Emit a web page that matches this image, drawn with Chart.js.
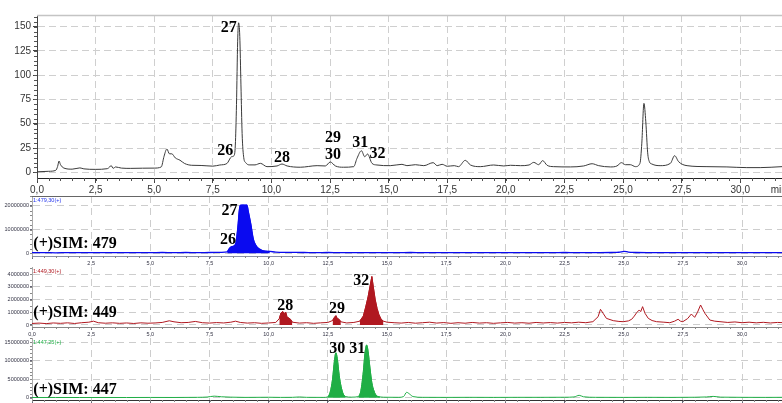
<!DOCTYPE html>
<html><head><meta charset="utf-8">
<script src="https://cdn.jsdelivr.net/npm/chart.js@4.4.0/dist/chart.umd.min.js"></script>
<style>
html,body{margin:0;padding:0;background:#fff;overflow:hidden;width:782px;height:403px;position:relative;}
canvas{position:absolute;left:0;}
</style></head><body>
<canvas id="c1" width="782" height="200" style="top:0px"></canvas>
<canvas id="c2" width="782" height="80" style="top:188px"></canvas>
<canvas id="c3" width="782" height="79" style="top:259px"></canvas>
<canvas id="c4" width="782" height="85" style="top:330px"></canvas>
<script>
// ---------- data ----------
const xTicks = [0, 2.5, 5, 7.5, 10, 12.5, 15, 17.5, 20, 22.5, 25, 27.5, 30];
const ticYTicks = [0, 25, 50, 75, 100, 125, 150];
const sim479YTicks = [0, 10000000, 20000000];
const sim449YTicks = [0, 1000000, 2000000, 3000000, 4000000];
const sim447YTicks = [0, 5000000, 10000000, 15000000];

// TIC (top trace), time in min, response
const ticT = [0, 0.5, 0.8, 0.88, 0.94, 1.0, 1.15, 1.5, 1.83, 2.0, 2.5, 3.0, 3.1, 3.16, 3.25, 3.35, 3.6, 4.0, 4.5, 5.0, 5.3, 5.42, 5.54, 5.65, 5.75, 5.9, 6.1, 6.3, 6.6, 7.0, 7.5, 7.8, 8.1, 8.3, 8.4, 8.46, 8.51, 8.56, 8.6, 8.65, 8.7, 8.75, 8.82, 8.9, 9.05, 9.3, 9.53, 9.81, 10.24, 10.45, 10.67, 11.23, 11.95, 12.3, 12.51, 12.73, 13.08, 13.51, 13.65, 13.84, 13.98, 14.1, 14.29, 14.5, 15.07, 15.57, 15.78, 16.14, 16.5, 16.9, 17.07, 17.28, 17.5, 17.8, 17.98, 18.27, 18.49, 18.91, 19.48, 19.91, 20.2, 20.63, 20.99, 21.19, 21.4, 21.57, 21.76, 22.04, 22.75, 23.32, 23.68, 23.96, 24.46, 24.74, 24.93, 25.1, 25.31, 25.53, 25.72, 25.8, 25.89, 25.97, 26.05, 26.12, 26.23, 26.58, 27.02, 27.2, 27.37, 27.73, 28.58, 29.43, 30.28, 30.85, 31.78];
const ticV = [0.5, 1, 2, 6, 11.6, 8, 4.3, 3.2, 4.5, 3.5, 3, 3.7, 5.5, 7, 4, 5.5, 4.3, 4, 4.2, 4.3, 5.5, 16.5, 24, 19, 19, 14.8, 12.4, 9, 7.2, 7, 6.3, 7.5, 9, 16, 17, 28, 70, 135, 154, 140, 90, 40, 15, 10, 7.6, 7.6, 9.2, 5.8, 6.5, 8.5, 6.5, 5.2, 6.8, 6.5, 10.6, 6.5, 5.2, 5.8, 14.3, 22.2, 16, 18.8, 9.2, 7.5, 6.8, 8.2, 6.8, 7.8, 6.8, 9.9, 6.8, 8.2, 6.2, 6.8, 5.8, 12.3, 7.5, 5.8, 7.5, 6.5, 7.2, 6.8, 7.5, 10.2, 7.8, 12, 7.2, 5.8, 5.5, 6.5, 8.8, 6.8, 5.5, 6.5, 9.9, 7.8, 7.8, 5.8, 9.2, 30, 71, 52, 20, 11, 8.5, 6.8, 9.2, 17.1, 10.9, 6.8, 5.8, 5.5, 4.8, 4.8, 5.8];

// (+)SIM: 479
const sim479T = [0, 0.5, 1.0, 1.5, 2, 2.5, 3, 3.5, 4, 4.5, 5, 5.5, 6, 6.5, 7, 7.5, 8.0, 8.25, 8.35, 8.45, 8.55, 8.62, 8.7, 8.76, 8.8, 8.9, 9.0, 9.08, 9.14, 9.24, 9.35, 9.45, 9.55, 9.7, 9.85, 10.05, 10.3, 10.8, 11.5, 12, 12.5, 13, 13.5, 14, 14.5, 15, 15.5, 16, 16.5, 17, 17.5, 18, 18.5, 19, 19.5, 20, 20.5, 21, 21.5, 22, 22.5, 23, 23.5, 24, 24.5, 24.8, 25.02, 25.2, 25.5, 26, 26.5, 27, 27.5, 28, 28.5, 29, 29.5, 30, 30.5, 31, 31.7];
const sim479V = [2.5e5, 3.0e5, 2.2e5, 3.0e5, 2.5e5, 3.2e5, 2.5e5, 3.0e5, 2.6e5, 3.2e5, 2.8e5, 3.5e5, 3.0e5, 3.4e5, 3.0e5, 3.5e5, 4.0e5, 6.0e5, 2.2e6, 2.8e6, 3.2e6, 4.5e6, 1.1e7, 1.8e7, 2.02e7, 2.03e7, 2.02e7, 2.03e7, 1.75e7, 1.25e7, 6.0e6, 3.5e6, 2.2e6, 1.3e6, 9.0e5, 8.0e5, 5.0e5, 4.0e5, 3.5e5, 3.0e5, 3.5e5, 3.0e5, 3.3e5, 2.8e5, 3.2e5, 2.8e5, 3.0e5, 3.5e5, 2.8e5, 3.0e5, 3.3e5, 2.8e5, 3.0e5, 2.7e5, 3.2e5, 2.8e5, 3.0e5, 2.6e5, 3.2e5, 3.0e5, 3.5e5, 3.0e5, 3.2e5, 3.0e5, 3.5e5, 4.5e5, 8.5e5, 5.0e5, 3.5e5, 3.0e5, 3.3e5, 2.8e5, 3.0e5, 2.7e5, 3.0e5, 2.8e5, 3.0e5, 2.7e5, 3.0e5, 2.8e5, 3.0e5];
const sim479Peaks = [[8.25, 10.05]];

// (+)SIM: 449
const sim449T = [0, 0.3, 0.6, 0.9, 1.2, 1.5, 1.8, 2.1, 2.4, 2.6, 2.8, 3.1, 3.4, 3.7, 4.0, 4.3, 4.6, 4.9, 5.2, 5.5, 5.8, 6.0, 6.3, 6.6, 6.9, 7.2, 7.5, 7.8, 8.1, 8.4, 8.6, 8.8, 9.1, 9.4, 9.7, 10.0, 10.3, 10.45, 10.52, 10.6, 10.68, 10.72, 10.78, 10.85, 10.92, 11.0, 11.3, 11.6, 11.9, 12.2, 12.5, 12.7, 12.78, 12.84, 12.9, 12.97, 13.05, 13.3, 13.6, 13.85, 14.0, 14.1, 14.2, 14.28, 14.36, 14.42, 14.5, 14.58, 14.66, 14.75, 14.85, 15.0, 15.3, 15.6, 15.9, 16.2, 16.5, 16.8, 17.1, 17.4, 17.7, 18.0, 18.3, 18.6, 18.9, 19.2, 19.5, 19.8, 20.1, 20.4, 20.7, 21.0, 21.3, 21.6, 21.9, 22.2, 22.5, 22.8, 23.1, 23.4, 23.7, 23.92, 24.02, 24.13, 24.27, 24.56, 24.8, 24.98, 25.2, 25.34, 25.45, 25.55, 25.66, 25.72, 25.8, 25.9, 26.04, 26.2, 26.39, 26.7, 26.95, 27.15, 27.3, 27.4, 27.5, 27.7, 27.86, 28.0, 28.12, 28.25, 28.35, 28.43, 28.64, 28.85, 29.07, 29.4, 29.7, 30.0, 30.3, 30.6, 30.9, 31.2, 31.5, 31.8];
const sim449V = [1.2e5, 1.5e5, 1.1e5, 1.6e5, 1.3e5, 1.7e5, 1.2e5, 1.8e5, 2.2e5, 3.0e5, 1.8e5, 1.4e5, 1.7e5, 1.3e5, 1.6e5, 1.2e5, 1.7e5, 1.4e5, 1.6e5, 2.0e5, 3.3e5, 2.5e5, 1.8e5, 2.0e5, 2.8e5, 1.8e5, 1.5e5, 1.9e5, 1.6e5, 2.2e5, 3.0e5, 2.0e5, 1.5e5, 1.8e5, 1.3e5, 1.6e5, 2.0e5, 5.0e5, 9.5e5, 1.05e6, 9.0e5, 1.0e6, 6.0e5, 5.5e5, 4.5e5, 2.2e5, 1.5e5, 1.8e5, 1.3e5, 1.7e5, 2.0e5, 3.5e5, 6.0e5, 7.3e5, 5.0e5, 4.5e5, 2.5e5, 1.6e5, 2.0e5, 3.0e5, 7.0e5, 1.4e6, 2.2e6, 3.0e6, 3.8e6, 3.0e6, 2.0e6, 1.3e6, 8.0e5, 4.5e5, 3.0e5, 2.2e5, 1.8e5, 1.5e5, 2.0e5, 1.4e5, 1.8e5, 2.2e5, 1.5e5, 1.9e5, 1.3e5, 1.8e5, 1.4e5, 2.0e5, 1.5e5, 1.8e5, 1.3e5, 1.7e5, 2.0e5, 1.5e5, 1.8e5, 1.4e5, 2.0e5, 1.6e5, 1.9e5, 1.5e5, 2.0e5, 1.7e5, 2.2e5, 1.8e5, 2.6e5, 6.5e5, 1.23e6, 9.2e5, 5.2e5, 3.4e5, 2.8e5, 2.6e5, 3.2e5, 4.5e5, 7.0e5, 9.7e5, 1.18e6, 1.05e6, 1.44e6, 9.2e5, 5.2e5, 3.5e5, 2.6e5, 2.2e5, 1.8e5, 3.0e5, 4.5e5, 3.0e5, 2.6e5, 5.0e5, 8.6e5, 6.0e5, 1.0e6, 1.57e6, 1.2e6, 9.2e5, 3.9e5, 3.0e5, 2.6e5, 2.0e5, 2.4e5, 1.8e5, 2.2e5, 1.7e5, 2.1e5, 1.6e5, 2.0e5, 1.8e5];
const sim449Peaks = [[10.45, 11.0], [12.7, 13.05], [13.85, 14.85]];

// (+)SIM: 447
const sim447T = [0, 1, 2, 3, 4, 5, 6, 7, 7.4, 7.7, 8.0, 8.4, 9, 10, 10.5, 11, 11.3, 11.6, 12.3, 12.5, 12.6, 12.7, 12.78, 12.84, 12.9, 12.98, 13.06, 13.15, 13.25, 13.5, 13.8, 13.9, 14.0, 14.07, 14.14, 14.2, 14.28, 14.36, 14.45, 14.55, 14.7, 15.0, 15.5, 15.7, 15.83, 15.95, 16.1, 16.5, 17.5, 18.5, 19.5, 20.5, 21.5, 22.5, 22.9, 23.12, 23.3, 23.8, 25, 26, 27, 28, 28.5, 28.78, 29.1, 30, 31, 31.7];
const sim447V = [5e4, 6e4, 5e4, 6e4, 5e4, 7e4, 6e4, 1.0e5, 1.8e5, 4.2e5, 2.5e5, 1.5e5, 8e4, 1.2e5, 8e4, 1.0e5, 2.0e5, 1.0e5, 8e4, 2.0e5, 1.5e6, 5.0e6, 1.0e7, 1.21e7, 1.05e7, 6.0e6, 3.0e6, 1.0e6, 3.0e5, 1.5e5, 3.0e5, 2.0e6, 7.0e6, 1.2e7, 1.42e7, 1.25e7, 8.0e6, 4.0e6, 1.8e6, 6.0e5, 2.0e5, 1.2e5, 1.0e5, 3.0e5, 1.45e6, 1.0e6, 3.0e5, 1.0e5, 8e4, 1.0e5, 8e4, 1.0e5, 1.0e5, 1.2e5, 2.0e5, 6.4e5, 2.5e5, 1.0e5, 8e4, 1.0e5, 8e4, 1.2e5, 2.0e5, 3.5e5, 1.5e5, 1.0e5, 8e4, 1.0e5];
const sim447Peaks = [[12.5, 13.25], [13.8, 14.7]];

// annotations (text, time, response)
const ticNotes = [['27', 7.84, 144], ['26', 7.69, 17.8], ['28', 10.11, 10.9], ['29', 12.29, 31.5], ['30', 12.29, 13.4], ['31', 13.45, 25.8], ['32', 14.18, 14.4]];
const sim479Notes = [['27', 8.01, 1.61e7], ['26', 7.94, 3.9e6], ['(+)SIM: 479', 0.055, 2.44e6]];
const sim449Notes = [['28', 10.36, 1.2e6], ['29', 12.55, 9.2e5], ['32', 13.57, 3.14e6], ['(+)SIM: 449', 0.055, 5.9e5]];
const sim447Notes = [['30', 12.56, 1.213e7], ['31', 13.41, 1.213e7], ['(+)SIM: 447', 0.055, 1.13e6]];

// ---------- helpers ----------
function pts(t, v) { return t.map((x, i) => ({x: x, y: v[i]})); }
function segs(t, v, ranges) { const all = pts(t, v); return ranges.map(r => all.filter(p => p.x >= r[0] && p.x <= r[1])); }
function fmtX(v) { return v.toFixed(1).replace('.', ','); }

const extras = {
  id: 'extras',
  afterDraw(chart, args, o) {
    const ctx = chart.ctx, xs = chart.scales.x, ys = chart.scales.y, ca = chart.chartArea;
    ctx.save();
    if (o.topLine) {
      ctx.strokeStyle = o.topLine.color; ctx.lineWidth = o.topLine.width;
      ctx.beginPath(); ctx.moveTo(ca.left, Math.round(ca.top) + 0.5); ctx.lineTo(ca.right, Math.round(ca.top) + 0.5); ctx.stroke();
    }
    ctx.strokeStyle = o.minorColor; ctx.lineWidth = 1; ctx.setLineDash([]);
    ctx.beginPath();
    if (o.minorX) {
      for (let v = 0; v <= xs.max; v += o.minorX) {
        const px = Math.round(xs.getPixelForValue(v)) + 0.5;
        ctx.moveTo(px, ca.bottom); ctx.lineTo(px, ca.bottom + o.minorLen);
      }
    }
    if (o.minorY) {
      for (let v = 0; v <= ys.max; v += o.minorY) {
        const py = Math.round(ys.getPixelForValue(v)) + 0.5;
        ctx.moveTo(ca.left - o.minorLen, py); ctx.lineTo(ca.left, py);
      }
    }
    ctx.stroke();
    if (o.header) {
      ctx.font = o.header.font; ctx.fillStyle = o.header.color; ctx.textBaseline = 'top'; ctx.textAlign = 'left';
      ctx.fillText(o.header.text, ca.left + 1, ca.top + 1.5);
    }
    if (o.unit) {
      ctx.font = o.unit.font; ctx.fillStyle = o.unit.color; ctx.textBaseline = 'top'; ctx.textAlign = 'left';
      ctx.fillText(o.unit.text, xs.getPixelForValue(o.unit.at), ca.bottom + o.unit.dy);
    }
    if (o.notes) {
      ctx.font = 'bold 16px "Liberation Serif", "Times New Roman", serif';
      ctx.fillStyle = '#000'; ctx.textBaseline = 'alphabetic'; ctx.textAlign = 'left';
      o.notes.forEach(n => ctx.fillText(n[0], xs.getPixelForValue(n[1]), ys.getPixelForValue(n[2])));
    }
    ctx.restore();
  }
};

function makeChart(id, p) {
  const datasets = [];
  (p.peaks || []).forEach(seg => datasets.push({
    data: seg, borderWidth: 1, borderColor: p.color, backgroundColor: p.color, fill: 'origin',
    pointRadius: 0, tension: p.smooth ? 0.3 : 0, cubicInterpolationMode: p.smooth ? 'monotone' : 'default'
  }));
  datasets.push({
    data: p.data, borderWidth: p.lw, borderColor: p.color, fill: false, pointRadius: 0,
    tension: p.smooth ? 0.3 : 0, cubicInterpolationMode: p.smooth ? 'monotone' : 'default'
  });
  const gridColor = p.gridColor;
  return new Chart(document.getElementById(id), {
    type: 'line',
    data: {datasets: datasets},
    options: {
      responsive: false, animation: false, devicePixelRatio: 1, parsing: false, normalized: true,
      layout: {padding: {top: p.padTop, left: 0, right: 0, bottom: 0}},
      plugins: {
        legend: {display: false}, tooltip: {enabled: false},
        extras: {
          topLine: p.topLine, minorX: 0.5, minorY: p.minorY, minorLen: p.minorLen, minorColor: p.minorColor,
          header: p.header, unit: p.unit, notes: p.notes
        }
      },
      scales: {
        x: {
          type: 'linear', min: 0, max: p.xMax,
          afterBuildTicks: s => { s.ticks = xTicks.map(v => ({value: v})); },
          afterFit: s => { s.height = p.xH; },
          ticks: {
            autoSkip: false, maxRotation: 0, padding: p.xPad, color: p.tickColor,
            font: {family: 'Liberation Sans', size: p.xFont},
            callback: v => (p.hideZeroX && v === 0) ? '' : fmtX(v)
          },
          grid: {
            color: c => (c.tick && c.tick.value === 0) ? 'rgba(0,0,0,0)' : gridColor,
            lineWidth: 1, drawTicks: true, tickLength: p.xTickLen, tickColor: p.tickMarkColor, tickBorderDash: [], tickWidth: 1
          },
          border: {display: true, color: p.xBorder, width: 1, dash: p.dash}
        },
        y: {
          type: 'linear', min: p.yMin, max: p.yMax,
          afterBuildTicks: s => { s.ticks = p.yTicks.map(v => ({value: v})); },
          afterFit: s => { s.width = p.yW; },
          ticks: {
            autoSkip: false, padding: p.yPad, color: p.tickColor,
            font: {family: 'Liberation Sans', size: p.yFont},
            callback: v => String(v)
          },
          grid: {
            color: gridColor, lineWidth: 1, drawTicks: true, tickLength: p.yTickLen, tickColor: p.tickMarkColor, tickBorderDash: [], tickWidth: 1
          },
          border: {display: true, color: p.yBorder, width: 1, dash: p.dash}
        }
      }
    },
    plugins: [extras]
  });
}

const tinyFont = '5.5px "Liberation Sans", Arial, sans-serif';

makeChart('c1', {
  data: pts(ticT, ticV), color: '#3a3a3a', lw: 1, smooth: true,
  xMax: 31.78, yMin: -5.9, yMax: 162, yTicks: ticYTicks,
  padTop: 15, xH: 22, yW: 37, xPad: 1, yPad: 2, xFont: 10, yFont: 10, xTickLen: 5, yTickLen: 4,
  tickColor: '#333', tickMarkColor: '#444', gridColor: '#cfcfcf', dash: [7, 4],
  xBorder: '#222', yBorder: '#444', minorY: 5, minorLen: 3, minorColor: '#555',
  topLine: {color: '#c4c4c4', width: 1.5},
  unit: {text: 'min', at: 31.3, dy: 7, font: '10px "Liberation Sans", Arial, sans-serif', color: '#333'},
  notes: ticNotes
});

makeChart('c2', {
  data: pts(sim479T, sim479V), peaks: segs(sim479T, sim479V, sim479Peaks), color: '#0a0af0', lw: 1.3, smooth: true,
  xMax: 31.69, yMin: -1.13e6, yMax: 2.41e7, yTicks: sim479YTicks, hideZeroX: true,
  padTop: 8, xH: 12, yW: 32, xPad: 1, yPad: 1, xFont: 5.5, yFont: 5.5, xTickLen: 3, yTickLen: 2,
  tickColor: '#334', tickMarkColor: '#667', gridColor: '#cdcdcd', dash: [7, 5],
  xBorder: '#8a8fa8', yBorder: '#aaa', minorY: 2e6, minorLen: 2, minorColor: '#888',
  topLine: {color: '#666', width: 1},
  header: {text: '1:479,30(+)', color: '#2233ee', font: tinyFont},
  notes: sim479Notes
});

makeChart('c3', {
  data: pts(sim449T, sim449V), peaks: segs(sim449T, sim449V, sim449Peaks), color: '#b01820', lw: 1, smooth: false,
  xMax: 31.69, yMin: -1.57e5, yMax: 4.55e6, yTicks: sim449YTicks,
  padTop: 8, xH: 11, yW: 32, xPad: 1, yPad: 1, xFont: 5.5, yFont: 5.5, xTickLen: 3, yTickLen: 2,
  tickColor: '#334', tickMarkColor: '#667', gridColor: '#cdcdcd', dash: [7, 5],
  xBorder: '#888', yBorder: '#aaa', minorY: 5e5, minorLen: 2, minorColor: '#888',
  header: {text: '1:449,30(+)', color: '#b01820', font: tinyFont},
  notes: sim449Notes
});

makeChart('c4', {
  data: pts(sim447T, sim447V), peaks: segs(sim447T, sim447V, sim447Peaks), color: '#1fae45', lw: 1, smooth: true,
  xMax: 31.69, yMin: -6.2e5, yMax: 1.609e7, yTicks: sim447YTicks,
  padTop: 8, xH: 15, yW: 32, xPad: 1, yPad: 1, xFont: 5.5, yFont: 5.5, xTickLen: 3, yTickLen: 2,
  tickColor: '#334', tickMarkColor: '#667', gridColor: '#cdcdcd', dash: [7, 5],
  xBorder: '#333', yBorder: '#aaa', minorY: 1e6, minorLen: 2, minorColor: '#888',
  header: {text: '1:447,25(+)', color: '#1fae45', font: tinyFont},
  notes: sim447Notes
});
</script>
</body></html>
